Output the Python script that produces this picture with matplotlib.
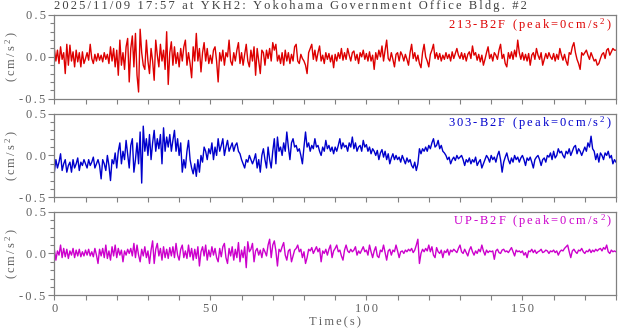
import numpy as np
import matplotlib
matplotlib.use("Agg")
import matplotlib.pyplot as plt
from matplotlib.ticker import MultipleLocator, FuncFormatter

# acceleration traces, every ~0.5 s (cm/s^2)
red = [
    0.10, -0.05, 0.08, -0.08, 0.12, -0.03, 0.05, -0.20, 0.15, -0.10, 0.14, -0.05, 0.06, -0.12, 0.08, -0.06, 0.05, -0.12, 0.06, -0.08,
    -0.02, 0.05, -0.04, 0.15, -0.02, -0.08, 0.03, -0.05, 0.04, -0.04, 0.02, -0.06, 0.05, -0.03, 0.03, -0.08, 0.12, -0.05, 0.10, -0.12,
    0.08, -0.22, 0.20, -0.10, 0.05, -0.15, 0.12, 0.22, -0.30, 0.10, 0.25, -0.12, 0.28, -0.22, -0.42, 0.33, 0.05, -0.10, -0.15, 0.20,
    -0.05, -0.20, 0.10, -0.05, -0.28, 0.20, 0.02, -0.12, 0.15, -0.05, 0.08, -0.15, 0.30, -0.33, 0.05, 0.18, -0.10, 0.12, -0.08, 0.05,
    -0.12, 0.10, -0.05, 0.12, 0.20, -0.10, 0.05, -0.08, -0.25, 0.12, -0.05, 0.28, -0.05, 0.10, -0.18, 0.05, 0.17, -0.05, 0.10, -0.08,
    0.02, -0.08, 0.08, 0.12, -0.05, -0.30, 0.05, -0.05, 0.08, -0.10, 0.05, 0.00, 0.20, -0.05, -0.10, 0.05, -0.05, 0.08, 0.17, -0.08,
    0.05, -0.10, 0.03, 0.15, -0.05, -0.12, 0.08, -0.05, 0.12, -0.22, 0.10, -0.05, -0.20, 0.08, 0.05, -0.10, 0.08, -0.02, 0.10, -0.05,
    0.17, 0.08, 0.15, -0.05, 0.02, -0.08, 0.05, -0.10, 0.08, -0.05, 0.05, -0.08, 0.03, -0.05, 0.12, 0.15, -0.05, -0.08, 0.03, -0.02,
    -0.05, -0.10, -0.20, 0.05, 0.10, 0.15, -0.03, 0.08, -0.05, 0.05, 0.13, -0.05, 0.02, -0.08, 0.05, -0.03, 0.04, -0.06, 0.02, -0.13,
    0.03, -0.05, 0.05, -0.02, 0.10, -0.04, 0.05, -0.03, 0.10, 0.02, -0.05, 0.05, 0.07, -0.04, 0.03, -0.08, 0.05, 0.00, 0.08, -0.03,
    0.04, -0.05, 0.06, -0.05, 0.02, -0.15, 0.05, -0.03, 0.08, 0.00, 0.13, -0.05, 0.08, 0.20, -0.02, -0.05, 0.05, -0.03, -0.12, 0.03,
    0.05, -0.05, 0.06, 0.02, -0.05, 0.03, -0.03, -0.10, 0.05, 0.15, -0.02, 0.05, -0.05, 0.02, -0.08, -0.13, 0.05, 0.15, 0.00, -0.05,
    -0.12, 0.03, 0.08, 0.15, -0.02, 0.05, -0.03, 0.04, -0.05, 0.02, -0.03, 0.05, -0.02, 0.03, -0.05, 0.06, -0.02, 0.04, 0.10, 0.02,
    -0.02, 0.05, -0.03, 0.04, -0.05, 0.03, 0.06, -0.02, 0.13, 0.02, 0.05, -0.04, 0.03, -0.06, 0.02, -0.10, -0.03, 0.05, 0.12, -0.02,
    0.03, -0.05, 0.05, 0.02, -0.03, 0.08, 0.15, -0.02, 0.03, -0.08, -0.12, 0.05, -0.02, 0.06, -0.03, 0.08, 0.00, 0.20, 0.05, -0.03,
    0.05, -0.04, 0.03, -0.05, 0.04, -0.10, 0.02, 0.05, -0.03, 0.10, 0.02, -0.03, 0.05, -0.10, -0.03, 0.04, -0.02, 0.05, 0.00, -0.03,
    0.04, -0.05, 0.03, -0.03, 0.10, 0.02, -0.04, 0.03, -0.05, -0.10, 0.05, 0.03, 0.12, 0.17, 0.05, -0.03, -0.08, -0.15, 0.05, 0.02,
    0.05, 0.08, 0.02, -0.03, 0.05, 0.00, -0.05, -0.03, -0.10, -0.08, -0.02, 0.03, 0.05, -0.02, 0.08, 0.10, 0.02, 0.06, 0.10, 0.08,
    0.08,
]

blue = [
    -0.20, -0.05, -0.15, -0.08, 0.02, -0.18, -0.10, -0.05, -0.20, -0.12, -0.08, -0.20, -0.05, -0.15, -0.10, -0.03, -0.18, -0.08, -0.12, -0.05,
    -0.10, -0.15, -0.05, -0.12, -0.08, -0.02, -0.15, -0.10, -0.05, -0.12, -0.28, -0.05, -0.10, -0.18, 0.00, -0.12, -0.30, -0.05, -0.10, 0.03,
    -0.15, 0.05, 0.15, -0.10, 0.05, -0.05, 0.18, 0.02, -0.15, 0.12, 0.20, -0.20, -0.05, 0.15, -0.10, 0.28, -0.33, 0.35, 0.05, 0.20,
    0.00, 0.25, -0.05, 0.15, 0.30, 0.05, 0.20, 0.08, 0.25, -0.10, 0.33, 0.05, 0.22, 0.10, 0.25, 0.05, 0.18, 0.30, 0.05, 0.20,
    0.00, 0.15, -0.20, -0.05, -0.15, 0.05, 0.18, -0.05, -0.15, -0.22, -0.10, -0.25, -0.05, -0.20, 0.00, -0.08, 0.10, 0.05, -0.05, 0.08,
    0.02, 0.15, -0.05, 0.10, 0.00, 0.20, 0.05, 0.12, 0.20, 0.00, 0.10, 0.18, 0.05, 0.10, 0.15, 0.05, 0.12, 0.15, 0.05, 0.02,
    -0.05, -0.10, -0.15, -0.05, -0.08, 0.00, -0.05, -0.10, -0.05, 0.02, -0.15, -0.05, -0.20, 0.00, 0.08, -0.05, -0.15, 0.10, -0.05, -0.15,
    0.05, 0.20, -0.10, 0.22, 0.05, 0.10, 0.00, 0.15, 0.05, 0.28, 0.10, -0.05, 0.15, 0.20, 0.10, 0.12, 0.05, 0.08, 0.00, -0.10,
    0.10, 0.28, 0.10, 0.15, 0.05, 0.12, 0.08, 0.20, 0.10, 0.12, 0.05, 0.00, 0.10, 0.05, 0.18, 0.08, 0.12, 0.05, 0.10, 0.02,
    0.10, 0.05, 0.12, 0.20, 0.08, 0.15, 0.10, 0.12, 0.05, 0.15, 0.10, 0.22, 0.08, 0.15, 0.05, 0.10, 0.12, 0.05, 0.18, 0.10,
    0.13, 0.05, 0.10, 0.02, 0.08, 0.05, 0.00, 0.06, -0.05, 0.03, 0.07, -0.02, 0.05, -0.05, 0.02, -0.10, -0.03, 0.02, -0.05, 0.00,
    -0.05, -0.02, -0.08, 0.00, -0.05, -0.10, -0.03, -0.08, -0.05, -0.12, -0.15, -0.08, -0.18, -0.10, 0.08, 0.02, 0.08, 0.05, 0.10, 0.05,
    0.12, 0.08, 0.15, 0.20, 0.10, 0.12, 0.18, 0.08, 0.12, 0.05, 0.03, 0.00, -0.05, -0.02, -0.10, -0.05, -0.02, -0.06, 0.00, -0.04,
    -0.02, 0.00, -0.05, -0.12, -0.05, -0.08, -0.03, -0.10, -0.05, -0.08, -0.02, -0.12, -0.08, -0.05, -0.15, -0.10, -0.05, 0.00, -0.03, -0.08,
    0.00, -0.05, -0.02, -0.08, 0.00, 0.05, -0.05, -0.20, -0.08, -0.02, 0.03, -0.05, -0.10, -0.03, -0.08, 0.00, -0.05, -0.02, -0.08, -0.03,
    0.00, -0.05, -0.12, -0.03, -0.06, -0.02, -0.08, -0.15, -0.05, -0.02, 0.00, -0.05, -0.12, -0.05, -0.03, -0.08, 0.00, -0.02, 0.03, -0.05,
    0.05, -0.03, 0.00, 0.08, 0.03, 0.05, 0.00, -0.03, 0.05, 0.02, 0.08, 0.00, 0.05, 0.10, 0.12, 0.02, 0.08, 0.05, 0.00, 0.05,
    0.10, 0.05, 0.15, 0.10, 0.23, 0.08, 0.05, -0.05, 0.02, -0.08, 0.03, 0.00, -0.05, 0.03, 0.00, 0.05, -0.03, 0.00, -0.10, -0.05,
    -0.08,
]

magenta = [
    0.05, -0.08, 0.03, -0.02, 0.10, -0.05, 0.06, -0.04, 0.05, -0.06, 0.03, -0.02, 0.06, -0.05, 0.04, -0.03, 0.05, -0.04, 0.02, -0.03,
    0.04, -0.02, 0.05, -0.03, 0.02, -0.04, 0.06, -0.02, -0.12, 0.05, -0.03, 0.06, -0.05, 0.10, -0.06, 0.03, -0.08, 0.08, -0.03, 0.10,
    -0.05, 0.06, -0.02, 0.04, -0.10, 0.03, -0.02, 0.05, 0.00, 0.06, -0.03, 0.12, -0.05, 0.10, -0.02, -0.10, 0.05, -0.03, 0.08, -0.05,
    0.03, -0.12, 0.04, 0.15, -0.12, 0.05, 0.12, -0.03, 0.06, -0.08, 0.08, -0.05, 0.05, -0.06, 0.07, -0.03, 0.08, -0.05, 0.12, -0.02,
    -0.08, 0.05, 0.10, -0.05, 0.03, -0.06, 0.10, -0.04, 0.06, -0.08, 0.05, -0.06, 0.08, -0.15, 0.02, 0.08, -0.03, 0.10, -0.08, 0.04,
    -0.04, 0.08, -0.02, 0.06, -0.05, -0.10, 0.06, -0.04, 0.08, 0.12, -0.05, -0.12, 0.06, -0.03, 0.08, -0.08, 0.05, -0.05, 0.13, -0.10,
    0.04, -0.05, 0.08, -0.17, 0.14, 0.02, 0.05, 0.12, -0.10, 0.03, 0.06, -0.02, 0.04, -0.05, 0.06, 0.02, -0.03, 0.10, 0.17, -0.05,
    0.10, 0.15, 0.03, -0.15, 0.05, 0.02, 0.08, 0.13, -0.02, -0.08, 0.03, 0.05, -0.10, -0.03, 0.04, 0.06, 0.10, 0.02, 0.05, -0.05,
    0.02, -0.12, -0.05, 0.05, 0.03, 0.07, 0.00, 0.04, 0.08, 0.02, 0.06, -0.10, 0.03, 0.00, 0.05, -0.02, 0.05, 0.10, -0.05, 0.03,
    0.06, 0.10, 0.02, 0.04, -0.03, -0.08, 0.04, 0.10, 0.03, 0.01, 0.05, 0.02, 0.04, 0.08, -0.02, 0.03, 0.00, 0.04, 0.08, 0.02,
    0.04, -0.02, 0.10, 0.02, -0.05, 0.03, 0.08, -0.03, -0.05, 0.04, 0.02, 0.10, 0.01, -0.08, 0.03, 0.05, -0.02, 0.04, 0.02, 0.10,
    0.03, -0.05, 0.02, 0.03, 0.00, 0.04, 0.02, 0.05, 0.03, 0.06, 0.01, 0.04, 0.10, 0.17, -0.12, 0.00, 0.05, 0.02, 0.06, 0.03,
    0.10, 0.02, 0.08, -0.02, -0.05, 0.07, 0.02, 0.00, 0.04, -0.05, 0.03, 0.01, 0.05, -0.02, 0.04, 0.02, 0.05, 0.03, 0.01, 0.06,
    0.10, 0.02, 0.00, 0.05, 0.01, -0.03, 0.04, 0.08, 0.02, -0.02, 0.03, 0.00, 0.05, 0.02, 0.10, 0.03, -0.02, 0.04, 0.01, 0.03,
    0.02, 0.03, -0.07, 0.03, 0.05, 0.01, 0.00, 0.04, 0.05, 0.02, 0.03, 0.01, 0.04, 0.07, 0.02, -0.03, 0.04, 0.02, 0.03, 0.01,
    0.03, -0.02, 0.01, -0.05, 0.03, 0.02, 0.05, 0.01, 0.04, 0.00, 0.02, 0.03, 0.05, 0.01, 0.02, 0.04, 0.03, 0.00, 0.03, 0.02,
    0.04, 0.01, 0.03, -0.02, 0.02, 0.04, 0.03, 0.06, 0.08, 0.10, 0.02, -0.05, 0.03, 0.05, 0.02, 0.00, 0.04, 0.03, 0.06, 0.02,
    0.00, 0.03, 0.02, 0.05, 0.01, 0.04, 0.02, 0.05, 0.03, 0.05, 0.06, 0.03, 0.07, 0.05, 0.10, 0.02, 0.00, 0.04, 0.02, 0.03,
    0.02,
]

labels = ["213-B2F", "303-B2F", "UP-B2F"]
peaks = [0, 0, 0]
colors = ["#dd0000", "#0000cc", "#cc00cc"]
title = "2025/11/09 17:57 at YKH2: Yokohama Government Office Bldg. #2"

plt.rcParams["font.family"] = ["Liberation Serif", "DejaVu Serif"]
plt.rcParams["mathtext.fontset"] = "custom"
plt.rcParams["mathtext.rm"] = "Liberation Serif"
plt.rcParams["mathtext.default"] = "regular"

GRAY = "#808080"
TXT = "#606060"
FS = 9
GAP = "\u2006"  # six-per-em space, the original text is letter-spaced


def spread(s):
    # put a small gap between characters, leave $...$ math parts whole
    parts = s.split("$")
    out = []
    for k, p in enumerate(parts):
        if k % 2:
            out.append("$" + p + "$")
        elif p:
            out.append(GAP.join(p))
    return GAP.join(out)


fig = plt.figure(figsize=(6.18, 3.34), dpi=100)
left, width, height = 0.0879, 0.9089, 0.2506
bottoms = [0.7045, 0.4093, 0.1159]

for i, (series, lab, pk, col) in enumerate(zip([red, blue, magenta], labels, peaks, colors)):
    ax = fig.add_axes([left, bottoms[i], width, height])
    t = np.linspace(0, 180, len(series))
    ax.plot(t, series, color=col, lw=1.0)
    ax.set_xlim(0, 180)
    ax.set_ylim(-0.5, 0.5)
    ax.xaxis.set_major_locator(MultipleLocator(50))
    ax.xaxis.set_minor_locator(MultipleLocator(10))
    ax.yaxis.set_major_locator(MultipleLocator(0.5))
    ax.yaxis.set_minor_locator(MultipleLocator(0.1))
    ax.yaxis.set_major_formatter(FuncFormatter(lambda v, p: spread(f"{v:.1f}")))
    ax.xaxis.set_major_formatter(FuncFormatter(lambda v, p: spread(f"{v:.0f}")))
    ax.tick_params(which="both", direction="out", colors=GRAY, labelcolor=TXT, labelsize=FS, width=0.8)
    ax.tick_params(axis="y", which="major", length=4.3, pad=2)
    ax.tick_params(axis="y", which="minor", length=2.6)
    ax.tick_params(axis="x", which="both", length=3.3, pad=2.5)
    for s in ax.spines.values():
        s.set_color(GRAY)
        s.set_linewidth(0.9)
    ax.set_ylabel(spread("(cm/s$^2$)"), color=TXT, fontsize=FS)
    ax.yaxis.set_label_coords(-0.059, 0.5)
    ax.text(0.993, 0.841, spread(f"{lab} (peak={pk}cm/s$^2$)"), transform=ax.transAxes,
            ha="right", va="baseline", color=col, fontsize=FS)
    if i < 2:
        ax.tick_params(axis="x", labelbottom=False)
    else:
        ax.set_xlabel(spread("Time(s)"), color=TXT, fontsize=FS, labelpad=1)
    if i == 0:
        ax.set_title(spread(title), loc="left", color="#404040", fontsize=FS, pad=4)

fig.savefig("out.png", dpi=100)
